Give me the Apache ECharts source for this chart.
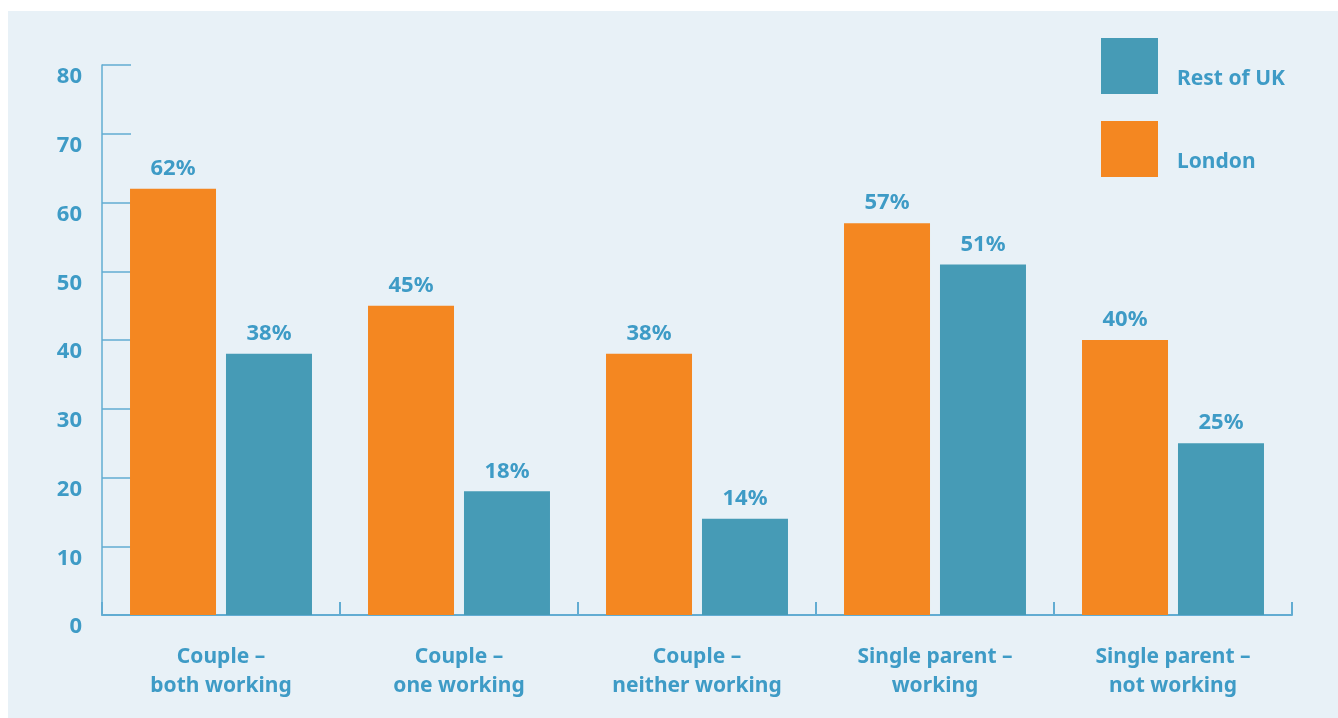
<!DOCTYPE html>
<html>
<head>
<meta charset="utf-8">
<script src="https://cdn.jsdelivr.net/npm/echarts@6/dist/echarts.min.js"></script>
<style>
  html, body { margin: 0; padding: 0; background: #ffffff; }
  #chart { width: 1338px; height: 718px; }
</style>
</head>
<body>
<div id="chart"></div>
<script>
// Household types and share (%) for London vs the rest of the UK
const categories = [
  'Couple –\nboth working',
  'Couple –\none working',
  'Couple –\nneither working',
  'Single parent –\nworking',
  'Single parent –\nnot working'
];
const londonValues = [62, 45, 38, 57, 40];
const restOfUkValues = [38, 18, 14, 51, 25];
const seriesNames = ['London', 'Rest of UK'];

const textBlue = '#3e9bc6';
const axisBlue = '#62acd2';
const orange = '#f48721';
const teal = '#469bb6';
const font = '"Noto Sans"';

const chart = echarts.init(document.getElementById('chart'));

const labelStyle = {
  show: true,
  position: 'top',
  distance: 9,
  formatter: '{c}%',
  color: textBlue,
  fontFamily: font,
  fontWeight: 'bold',
  fontSize: 22
};

chart.setOption({
  animation: false,
  graphic: [{
    type: 'rect',
    z: -10,
    shape: { x: 8, y: 11, width: 1330, height: 707 },
    style: { fill: '#e8f1f7' }
  }],
  grid: { left: 102, right: 46, top: 65, bottom: 103 },
  legend: {
    data: ['Rest of UK', 'London'],
    orient: 'vertical',
    left: 1101,
    top: 38,
    padding: 0,
    itemWidth: 57,
    itemHeight: 56,
    itemGap: 27,
    icon: 'rect',
    formatter: name => '{t|' + name + '}',
    textStyle: {
      rich: {
        t: {
          color: textBlue,
          fontFamily: font,
          fontWeight: 'bold',
          fontSize: 21,
          padding: [26, 0, 0, 14]
        }
      }
    }
  },
  xAxis: {
    type: 'category',
    data: categories,
    axisLine: { show: true, lineStyle: { color: axisBlue, width: 2 } },
    axisTick: { show: true, inside: true, length: 13, alignWithLabel: false, lineStyle: { color: axisBlue, width: 2 } },
    axisLabel: {
      color: textBlue,
      fontFamily: font,
      fontWeight: 'bold',
      fontSize: 21,
      lineHeight: 29,
      margin: 28
    }
  },
  yAxis: {
    type: 'value',
    min: 0,
    max: 80,
    interval: 10,
    splitLine: { show: false },
    axisLine: { show: true, lineStyle: { color: axisBlue, width: 1.5 } },
    axisTick: { show: true, inside: true, length: 29, lineStyle: { color: axisBlue, width: 1.5 } },
    axisLabel: {
      color: textBlue,
      fontFamily: font,
      fontWeight: 'bold',
      fontSize: 22,
      margin: 20,
      verticalAlign: 'top',
      lineHeight: 24
    }
  },
  series: [
    {
      name: seriesNames[0],
      type: 'bar',
      data: londonValues,
      barWidth: 86,
      barGap: '11.6%',
      itemStyle: { color: orange },
      label: labelStyle
    },
    {
      name: seriesNames[1],
      type: 'bar',
      data: restOfUkValues,
      barWidth: 86,
      barGap: '11.6%',
      itemStyle: { color: teal },
      label: labelStyle
    }
  ]
});
</script>
</body>
</html>
